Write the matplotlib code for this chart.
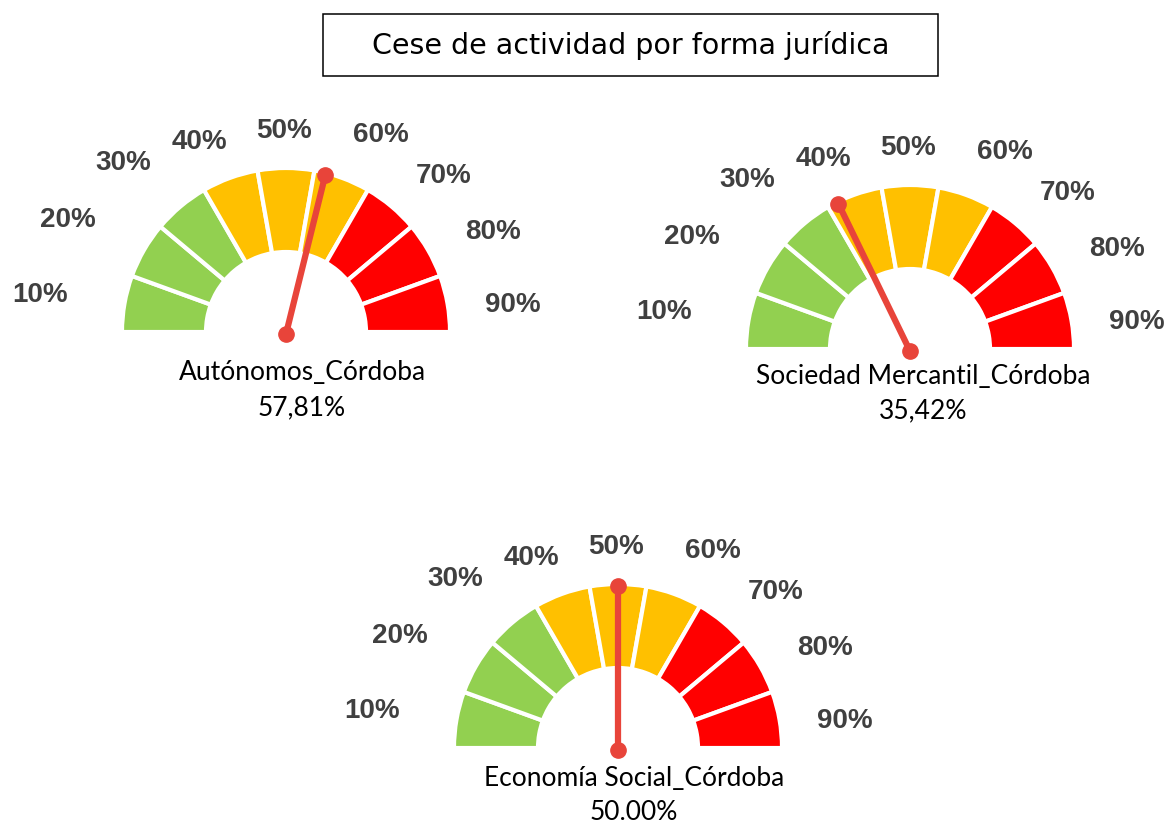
import numpy as np
import matplotlib
matplotlib.use("Agg")
import matplotlib.pyplot as plt
from matplotlib.patches import Wedge, Rectangle

# ---------------------------------------------------------------
# datos
# ---------------------------------------------------------------
titulo = "Cese de actividad por forma jurídica"
tramos = ["10%", "20%", "30%", "40%", "50%", "60%", "70%", "80%", "90%"]
colores_tramos = ["#92D050"] * 3 + ["#FFC000"] * 3 + ["#FF0000"] * 3

nombres = ["Autónomos_Córdoba", "Sociedad Mercantil_Córdoba", "Economía Social_Córdoba"]
valores = [57.81, 35.42, 50.00]
etiquetas_valor = ["57,81%", "35,42%", "50.00%"]

# ---------------------------------------------------------------
# maqueta (en píxeles, y hacia abajo)
# ---------------------------------------------------------------
W, H = 1165, 825
centros = [(286, 332), (910, 349), (618, 748)]
nombre_off = [(16, 40), (13, 28), (16, 31)]   # centro del nombre respecto al medidor
valor_off = [(16, 76), (13, 62), (16, 64)]
R_EXT, R_INT = 164, 80
# posición de las etiquetas de tramo respecto al centro del medidor
lab_dx = [-246, -218, -163, -87, -2, 95, 158, 207, 227]
lab_dy = [37, 112, 169, 190, 201, 197, 156, 100, 27]

fig = plt.figure(figsize=(W / 100, H / 100), dpi=100)
ax = fig.add_axes([0, 0, 1, 1])
ax.set_xlim(0, W)
ax.set_ylim(0, H)
ax.set_aspect("equal")
ax.axis("off")


def py(y):
    return H - y


# título con recuadro
ax.add_patch(Rectangle((323, py(76)), 615, 62, fill=False, ec="black", lw=1.1))
ax.text(630.5, py(45), titulo, ha="center", va="center",
        fontsize=20.5, family="DejaVu Sans", color="black")

n = len(tramos)
paso = 180 / n
for g, (cx, cy) in enumerate(centros):
    c = (cx, py(cy))
    for i in range(n):
        t2 = 180 - paso * i
        t1 = t2 - paso
        ax.add_patch(Wedge(c, R_EXT, t1, t2, width=R_EXT - R_INT,
                           fc=colores_tramos[i], ec="white", lw=3))
        ax.text(cx + lab_dx[i], py(cy) + lab_dy[i], tramos[i], ha="center", va="center",
                fontsize=20, fontweight="bold", family="Liberation Sans", color="#404040")

    # aguja
    ang = np.radians(180 - valores[g] / 100 * 180)
    largo = R_EXT - 2
    xs = [c[0], c[0] + largo * np.cos(ang)]
    ys = [c[1] - 2, c[1] + largo * np.sin(ang)]
    ax.plot(xs, ys, color="#E8443A", lw=4.5, solid_capstyle="butt", zorder=5)
    ax.plot(xs, ys, "o", color="#E8443A", ms=11, zorder=6)

    ax.text(cx + nombre_off[g][0], py(cy + nombre_off[g][1]), nombres[g],
            ha="center", va="center", fontsize=19, family="Lato", color="black")
    ax.text(cx + valor_off[g][0], py(cy + valor_off[g][1]), etiquetas_valor[g],
            ha="center", va="center", fontsize=19, family="Lato", color="black")

fig.savefig("out.png", dpi=100)
